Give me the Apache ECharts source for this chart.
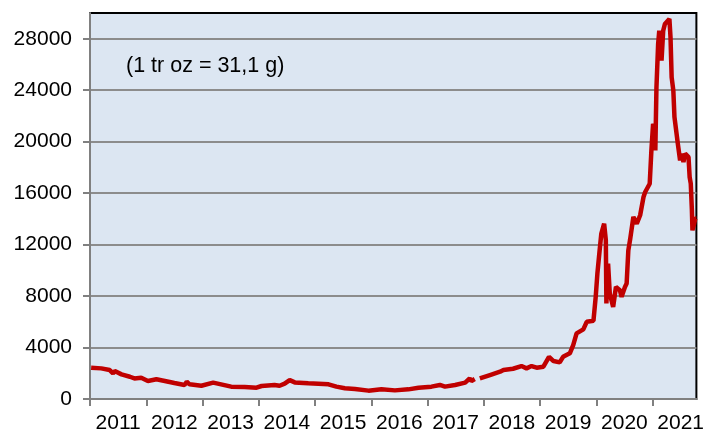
<!DOCTYPE html>
<html>
<head>
<meta charset="utf-8">
<script src="https://cdn.jsdelivr.net/npm/echarts@6/dist/echarts.min.js"></script>
<style>
  html, body { margin: 0; padding: 0; background: #fff; }
  #main { width: 707px; height: 434px; }
</style>
</head>
<body>
<div id="main"></div>
<script>
// x = decimal year, y = USD per troy ounce
var years = [
  2011.02, 2011.20, 2011.35, 2011.41, 2011.44, 2011.56, 2011.71, 2011.79, 2011.91,
  2012.03, 2012.18, 2012.33, 2012.50, 2012.68, 2012.72, 2012.77, 2012.98,
  2013.19, 2013.33, 2013.51, 2013.75, 2013.96,
  2014.05, 2014.28, 2014.37, 2014.46, 2014.55, 2014.64, 2014.88,
  2015.24, 2015.38, 2015.53, 2015.71, 2015.95,
  2016.18, 2016.42, 2016.66, 2016.84,
  2017.07, 2017.22, 2017.31, 2017.49, 2017.67, 2017.75, 2017.78, 2017.84, 2017.88,
  2017.93, 2018.11, 2018.29, 2018.35, 2018.52, 2018.67, 2018.76, 2018.85, 2018.94,
  2019.06, 2019.16, 2019.24, 2019.35, 2019.41, 2019.53, 2019.59, 2019.65, 2019.77, 2019.83, 2019.95,
  2019.99, 2020.02, 2020.06, 2020.09, 2020.14, 2020.17, 2020.18, 2020.21, 2020.24, 2020.30,
  2020.35, 2020.42, 2020.45, 2020.51, 2020.54, 2020.57, 2020.60, 2020.66, 2020.72, 2020.78,
  2020.81, 2020.84, 2020.87, 2020.95, 2020.98, 2021.01, 2021.03, 2021.05, 2021.07, 2021.10,
  2021.12, 2021.16, 2021.19, 2021.22, 2021.25, 2021.30, 2021.32, 2021.34, 2021.37, 2021.39,
  2021.45, 2021.49, 2021.52, 2021.55, 2021.58, 2021.64, 2021.66, 2021.68, 2021.70, 2021.71,
  2021.74, 2021.76, 2021.78
];
var prices = [
  2430, 2380, 2250, 1990, 2170, 1915, 1730, 1600, 1650,
  1400, 1530, 1400, 1240, 1090, 1340, 1140, 1030,
  1270, 1140, 960, 930, 880,
  1010, 1090, 1030, 1190, 1470, 1290, 1220,
  1140, 960, 830, 780, 650,
  750, 670, 750, 880,
  960, 1090, 960, 1090, 1270, 1600, 1400, 1550, null,
  1600, 1860, 2120, 2250, 2350, 2560, 2380, 2560, 2430,
  2510, 3280, 2950, 2850, 3280, 3550, 4190, 5100, 5410, 6000, 6080,
  7940, 9750, 11560, 12860, 13630, 12340, 7430, 10530, 8200, 7160,
  8710, 8460, 7940, 8710, 8980, 11560, 12340, 14150, 13630, 14280,
  14150, 15700, 16090, 16730, 19320, 21390, 21130, 19320, 24230, 27600,
  28630, 26300, 28630, 29150, 29020, 29540, 28110, 25010, 23980, 21910,
  19840, 18550, 19070, 18420, 19070, 18800, 17250, 16740, 14670, 13110,
  13630, 14020, 14020
];
var yearTicks = [2011, 2012, 2013, 2014, 2015, 2016, 2017, 2018, 2019, 2020, 2021];
var yearLabelPos = [2011.5, 2012.5, 2013.5, 2014.5, 2015.5, 2016.5, 2017.5, 2018.5, 2019.5, 2020.5, 2021.5];
var yTicks = [0, 4000, 8000, 12000, 16000, 20000, 24000, 28000];

var points = years.map(function (y, i) { return [y, prices[i]]; });

var myChart = echarts.init(document.getElementById('main'));
var option = {
  animation: false,
  backgroundColor: '#fff',
  title: {
    text: '(1 tr oz = 31,1 g)',
    left: 126,
    top: 55,
    padding: 0,
    textStyle: { fontFamily: 'Liberation Sans', fontSize: 21.5, fontWeight: 'normal', color: '#000' }
  },
  grid: {
    left: 90, top: 13, right: 10, bottom: 35,
    show: true,
    backgroundColor: '#dce6f2',
    borderColor: '#000',
    borderWidth: 2
  },
  xAxis: {
    type: 'value',
    min: 2011,
    max: 2021.78,
    axisLine: { show: true, lineStyle: { color: '#808080', width: 2 } },
    axisTick: {
      show: true, length: 7, inside: false,
      customValues: yearTicks,
      lineStyle: { color: '#808080', width: 2 }
    },
    axisLabel: {
      customValues: yearLabelPos,
      margin: 14,
      fontFamily: 'Liberation Sans', fontSize: 21, color: '#000',
      formatter: function (v) { return String(Math.floor(v)); }
    },
    splitLine: { show: false }
  },
  yAxis: {
    type: 'value',
    min: 0,
    max: 30000,
    interval: 4000,
    axisLine: { show: true, lineStyle: { color: '#808080', width: 2 } },
    axisTick: {
      show: true, length: 7, inside: false,
      customValues: yTicks,
      lineStyle: { color: '#808080', width: 2 }
    },
    axisLabel: {
      customValues: yTicks,
      margin: 18,
      fontFamily: 'Liberation Sans', fontSize: 21, color: '#000',
      formatter: function (v) { return String(v); }
    },
    splitLine: { show: true, lineStyle: { color: '#8c8c8c', width: 2 } }
  },
  series: [{
    type: 'line',
    data: points,
    showSymbol: false,
    connectNulls: false,
    lineStyle: { color: '#c00000', width: 4.5 },
    itemStyle: { color: '#c00000' }
  }]
};
myChart.setOption(option);
</script>
</body>
</html>
